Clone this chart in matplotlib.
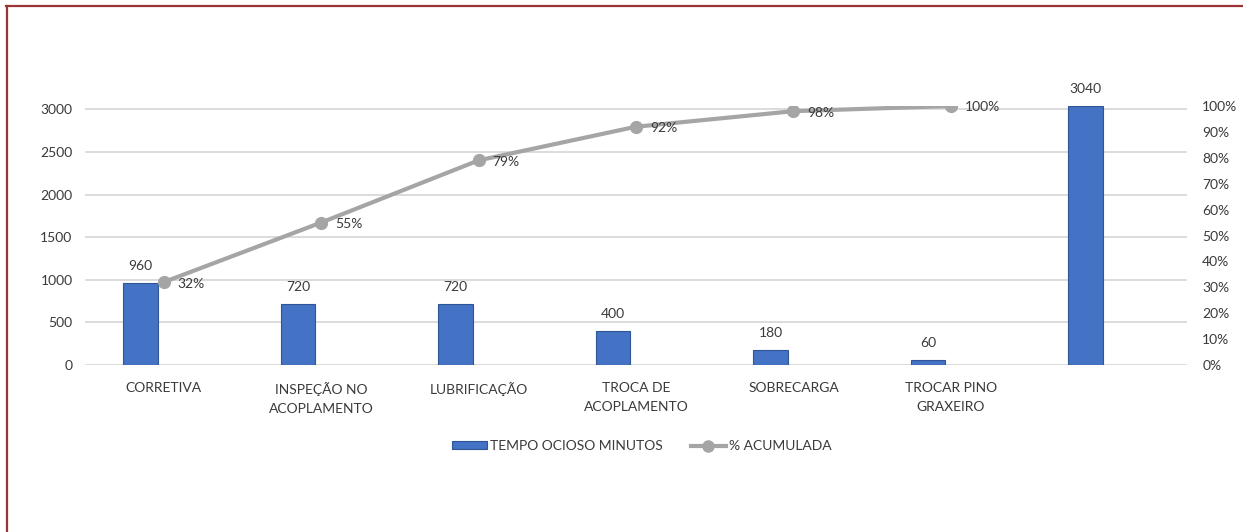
import matplotlib
matplotlib.use("Agg")
import matplotlib.pyplot as plt
from matplotlib.lines import Line2D
from matplotlib.patches import Patch
from matplotlib.ticker import FuncFormatter

categories = ["CORRETIVA", "INSPEÇÃO NO\nACOPLAMENTO", "LUBRIFICAÇÃO",
              "TROCA DE\nACOPLAMENTO", "SOBRECARGA", "TROCAR PINO\nGRAXEIRO", ""]
tempo_ocioso = [960, 720, 720, 400, 180, 60, 3040]
acumulada = [0.32, 0.55, 0.79, 0.92, 0.98, 1.00]
left_ticks = [0, 500, 1000, 1500, 2000, 2500, 3000]
right_ticks = [i / 10 for i in range(11)]

TEXT = "#3a3a3a"
BAR = "#4472c4"
BAR_EDGE = "#2f5597"
LINE = "#a5a5a5"
GRID = "#d9d9d9"
BORDER = "#9b3434"

plt.rcParams["font.family"] = ["Lato", "DejaVu Sans"]
plt.rcParams["font.size"] = 10

fig = plt.figure(figsize=(12.43, 5.32), dpi=100)
W, H = 1243, 532
ax = fig.add_axes([85 / W, (H - 365) / H, (1187 - 85) / W, (365 - 106) / H])
ax2 = ax.twinx()

x = list(range(len(categories)))
bar_x = [i - 0.146 for i in x]
bars = ax.bar(bar_x, tempo_ocioso, width=0.22, color=BAR, edgecolor=BAR_EDGE,
              linewidth=0.8, zorder=2)
for bx, v in zip(bar_x, tempo_ocioso):
    ax.annotate(f"{v}", (bx, v), xytext=(0, 8), textcoords="offset points",
                ha="center", va="bottom", color=TEXT, fontsize=10)

ax.set_xlim(-0.5, len(categories) - 0.5)
ax.set_ylim(0, 3040)
ax.set_yticks(left_ticks)
ax.set_xticks(x)
ax.set_xticklabels(categories, color=TEXT, fontsize=10, linespacing=1.75)
ax.tick_params(axis="x", length=0, pad=12)
ax.tick_params(axis="y", length=0, pad=9, labelcolor=TEXT, labelsize=10)
ax.grid(axis="y", color=GRID, linewidth=1.3, zorder=0)
ax.set_axisbelow(True)

lx = x[:len(acumulada)]
ax2.plot(lx, acumulada, color=LINE, linewidth=3, marker="o", markersize=8.5,
         markerfacecolor=LINE, markeredgecolor=LINE, zorder=3)
for px, p in zip(lx, acumulada):
    ax2.annotate(f"{p:.0%}", (px, p), xytext=(10, -1), textcoords="offset points",
                 ha="left", va="center", color=TEXT, fontsize=10)
ax2.set_ylim(0, 1.0)
ax2.set_yticks(right_ticks)
ax2.yaxis.set_major_formatter(FuncFormatter(lambda v, _: f"{v:.0%}"))
ax2.tick_params(axis="y", length=0, pad=11, labelcolor=TEXT, labelsize=10)

for a in (ax, ax2):
    for s in a.spines.values():
        s.set_visible(False)

handles = [Patch(facecolor=BAR, edgecolor=BAR_EDGE, linewidth=0.8),
           Line2D([0], [0], color=LINE, linewidth=3, marker="o", markersize=8)]
fig.legend(handles, ["TEMPO OCIOSO MINUTOS", "% ACUMULADA"], loc="center",
           bbox_to_anchor=(642 / W, (H - 446) / H), ncol=2, frameon=False,
           fontsize=10, labelcolor=TEXT, handlelength=2.5, handleheight=0.5,
           handletextpad=0.25, columnspacing=2.0)

fig.add_artist(Line2D([6 / W, 1], [(H - 6) / H, (H - 6) / H], color=BORDER,
                      linewidth=1.6, transform=fig.transFigure))
fig.add_artist(Line2D([6.5 / W, 6.5 / W], [0, (H - 6) / H], color=BORDER,
                      linewidth=1.6, transform=fig.transFigure))

fig.savefig("out.png", dpi=100)
